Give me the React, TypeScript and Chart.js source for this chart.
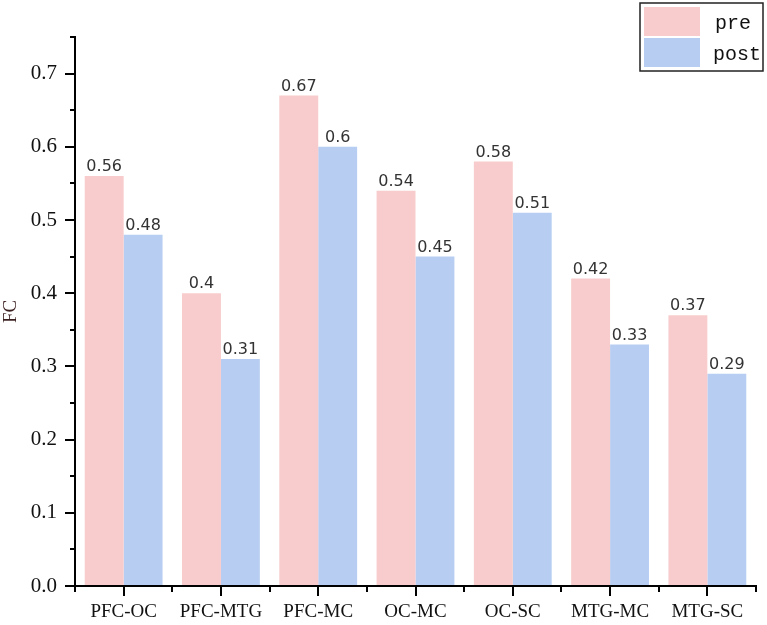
import React, { useEffect, useRef } from "react";
import { Chart, registerables } from "chart.js";

Chart.register(...registerables);

const categories = ["PFC-OC", "PFC-MTG", "PFC-MC", "OC-MC", "OC-SC", "MTG-MC", "MTG-SC"];
const preValues = [0.56, 0.4, 0.67, 0.54, 0.58, 0.42, 0.37];
const postValues = [0.48, 0.31, 0.6, 0.45, 0.51, 0.33, 0.29];
const seriesNames = ["pre", "post"];
const seriesColors = ["#F8CCCC", "#B7CEF2"];
const yTitle = "FC";

const extrasPlugin = {
  id: "extras",
  afterDraw(chart: any) {
    const ctx = chart.ctx;
    const xs = chart.scales.x;
    const ys = chart.scales.y;
    ctx.save();
    ctx.strokeStyle = "#000";
    ctx.lineWidth = 2;
    // minor y ticks
    for (let v = 0.05; v <= 0.75 + 1e-9; v += 0.1) {
      const y = Math.round(ys.getPixelForValue(v));
      ctx.beginPath();
      ctx.moveTo(xs.left - 5, y);
      ctx.lineTo(xs.left, y);
      ctx.stroke();
    }
    // minor x ticks at category boundaries
    const n = categories.length;
    const w = (xs.right - xs.left) / n;
    for (let i = 0; i <= n; i++) {
      const x = Math.round(xs.left + i * w);
      ctx.beginPath();
      ctx.moveTo(x, ys.bottom);
      ctx.lineTo(x, ys.bottom + 6);
      ctx.stroke();
    }
    // value labels
    ctx.fillStyle = "#333";
    ctx.font = "16px 'DejaVu Sans'";
    ctx.textAlign = "center";
    ctx.textBaseline = "bottom";
    chart.data.datasets.forEach((ds: any, di: number) => {
      const meta = chart.getDatasetMeta(di);
      meta.data.forEach((el: any, i: number) => {
        ctx.fillText(String(ds.data[i]), el.x, el.y - 1);
      });
    });
    // legend
    const lx = 640, ly = 3, lw = 123, lh = 68;
    ctx.fillStyle = "#fff";
    ctx.fillRect(lx, ly, lw, lh);
    ctx.strokeStyle = "#222";
    ctx.lineWidth = 1.5;
    ctx.strokeRect(lx, ly, lw, lh);
    ctx.font = "20px 'Liberation Mono'";
    ctx.textAlign = "left";
    ctx.textBaseline = "middle";
    chart.data.datasets.forEach((ds: any, di: number) => {
      const sy = ly + 4 + di * 31;
      ctx.fillStyle = ds.backgroundColor;
      ctx.fillRect(lx + 4, sy, 56, 29);
      ctx.fillStyle = "#111";
      ctx.fillText(ds.label, di === 0 ? lx + 75 : lx + 73, sy + 17);
    });
    // y title
    ctx.save();
    ctx.translate(11, (ys.top + ys.bottom) / 2);
    ctx.rotate(-Math.PI / 2);
    ctx.font = "19px 'Liberation Serif'";
    ctx.fillStyle = "#3a1f1f";
    ctx.textAlign = "center";
    ctx.textBaseline = "middle";
    ctx.fillText(yTitle, 0, 0);
    ctx.restore();
    ctx.restore();
  },
};

export default function App() {
  const ref = useRef<HTMLCanvasElement | null>(null);
  useEffect(() => {
    document.body.style.margin = "0";
    const canvas = ref.current!;
    const chart = new Chart(canvas, {
      type: "bar",
      data: {
        labels: categories,
        datasets: [
          { label: seriesNames[0], data: preValues, backgroundColor: seriesColors[0] },
          { label: seriesNames[1], data: postValues, backgroundColor: seriesColors[1] },
        ],
      },
      options: {
        animation: false,
        responsive: false,
        devicePixelRatio: 1,
        layout: { padding: { top: 37, right: 11, left: 0, bottom: 0 } },
        plugins: { legend: { display: false }, tooltip: { enabled: false } },
        datasets: { bar: { barPercentage: 1, categoryPercentage: 0.8 } },
        scales: {
          x: {
            afterFit(scale: any) { scale.height = 39; },
            grid: { display: true, offset: false, drawOnChartArea: false, tickLength: 10, color: "#000", lineWidth: 2 },
            border: { display: true, color: "#000", width: 2 },
            ticks: { color: "#111", padding: 5, font: { family: "Liberation Serif", size: 19 }, maxRotation: 0, autoSkip: false },
          },
          y: {
            min: 0,
            max: 0.75,
            afterFit(scale: any) { scale.width = 75; },
            afterBuildTicks(scale: any) {
              scale.ticks = scale.ticks.filter((t: any) => Math.abs(t.value * 10 - Math.round(t.value * 10)) < 1e-6);
            },
            grid: { display: true, drawOnChartArea: false, tickLength: 10, color: "#000", lineWidth: 2 },
            border: { display: true, color: "#000", width: 2 },
            ticks: {
              stepSize: 0.1,
              color: "#111",
              padding: 8,
              font: { family: "Liberation Serif", size: 21 },
              callback: (v: any) => Number(v).toFixed(1),
            },
          },
        },
      },
      plugins: [extrasPlugin],
    });
    return () => chart.destroy();
  }, []);
  return <canvas ref={ref} width={767} height={625} style={{ display: "block" }} />;
}
